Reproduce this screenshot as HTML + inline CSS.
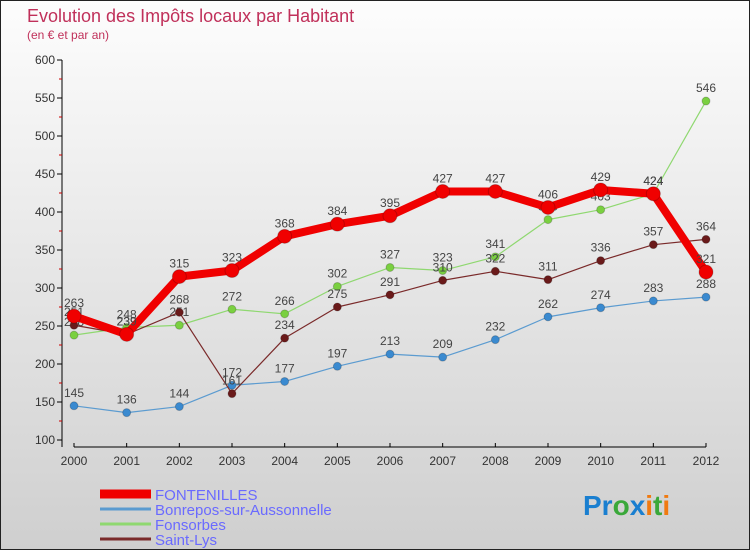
<!DOCTYPE html>
<html><head><meta charset="utf-8"><style>
body{margin:0;width:750px;height:550px;overflow:hidden;font-family:"Liberation Sans",sans-serif}
#c{position:absolute;left:0;top:0}
</style></head><body>
<svg id="c" width="750" height="550" xmlns="http://www.w3.org/2000/svg">
<defs><linearGradient id="bg" x1="0" y1="0" x2="0" y2="1"><stop offset="0" stop-color="#fdfdfd"/><stop offset="1" stop-color="#cfcfcf"/></linearGradient></defs>
<rect x="0.5" y="0.5" width="749" height="549" fill="url(#bg)" stroke="#222"/>
<text x="27" y="22" font-size="18" fill="#c0305a">Evolution des Impôts locaux par Habitant</text>
<text x="27" y="39" font-size="12" fill="#c0305a">(en € et par an)</text>
<g id="axes"></g><g id="series"></g><g id="legend"></g>
<text x="583" y="515" font-size="28" font-weight="bold"><tspan fill="#1a7fd0">Pr</tspan><tspan fill="#3aa83a">o</tspan><tspan fill="#1a7fd0">x</tspan><tspan fill="#f07a10">i</tspan><tspan fill="#3aa83a">t</tspan><tspan fill="#f07a10">i</tspan></text>
</svg>
<script>
const years=[2000,2001,2002,2003,2004,2005,2006,2007,2008,2009,2010,2011,2012];
const yTicks=[100,150,200,250,300,350,400,450,500,550,600];
const fontenilles=[263,239,315,323,368,384,395,427,427,406,429,424,321];
const bonrepos=[145,136,144,172,177,197,213,209,232,262,274,283,288];
const fonsorbes=[238,248,251,272,266,302,327,323,341,390,403,424,546];
const saintLys=[251,239,268,161,234,275,291,310,322,311,336,357,364];
const NS="http://www.w3.org/2000/svg";
const X=i=>74+i*(706-74)/(years.length-1);
const Y=v=>440-(v-100)*0.76;
function mk(t,a,p){const e=document.createElementNS(NS,t);for(const k in a)e.setAttribute(k,a[k]);p.appendChild(e);return e;}
const ax=document.getElementById('axes');
let l=mk('line',{x1:62,y1:60,x2:62,y2:447,stroke:'#000'},ax);


l=mk('line',{x1:74,y1:447,x2:706,y2:447,stroke:'#000'},ax);


yTicks.forEach((v,k)=>{mk('line',{x1:57,y1:Y(v),x2:62,y2:Y(v),stroke:'#000'},ax);
 if(k<yTicks.length-1)mk('line',{x1:59,y1:Y(v+25),x2:62,y2:Y(v+25),stroke:'#c00'},ax);
 const t=mk('text',{x:55,y:Y(v)+4,'text-anchor':'end','font-size':12,fill:'#333'},ax);t.textContent=v;
 
 });
years.forEach((y,i)=>{mk('line',{x1:X(i),y1:443,x2:X(i),y2:447,stroke:'#000'},ax);
 const t=mk('text',{x:X(i),y:465,'text-anchor':'middle','font-size':12,fill:'#333'},ax);t.textContent=y;
 
 });
const series=[
 {name:'bonrepos',data:bonrepos,c:'#5b9bd0',w:1.2,r:4,label:'Bonrepos-sur-Aussonnelle'},
 {name:'fonsorbes',data:fonsorbes,c:'#8fd870',w:1.2,r:4,label:'Fonsorbes'},
 {name:'saint-lys',data:saintLys,c:'#7a2a2a',w:1.2,r:4,label:'Saint-Lys'},
 {name:'fontenilles',data:fontenilles,c:'#f00000',w:8,r:7,label:'FONTENILLES'}];
const sg=document.getElementById('series');
const dot={bonrepos:'#3a8ad0',fonsorbes:'#7ad040','saint-lys':'#6a1a1a',fontenilles:'#f00000'};
series.forEach(s=>{const g=mk('g',{},sg);
 
 
 const p=mk('polyline',{points:s.data.map((v,i)=>X(i)+','+Y(v)).join(' '),fill:'none',stroke:s.c,'stroke-width':s.w,'stroke-linejoin':'round'},g);
 
 
 s.data.forEach((v,i)=>{const c=mk('circle',{cx:X(i),cy:Y(v),r:s.r,fill:dot[s.name],stroke:'rgba(0,0,0,0.2)'},g);
  
  
  const t=mk('text',{x:X(i),y:Y(v)-9,'text-anchor':'middle','font-size':12,fill:'#444'},g);t.textContent=v;
  
  });});
const lg=document.getElementById('legend');
const order=[3,0,1,2];
order.forEach((k,j)=>{const s=series[k];const y=494+j*15;
 const ln=mk('line',{x1:100,y1:y,x2:151,y2:y,stroke:s.c,'stroke-width':k==3?9:3},lg);
 
 
 const t=mk('text',{x:155,y:y+6,'font-size':15,fill:'#6a6aff'},lg);t.textContent=s.label;
 
 });
</script>
</body></html>
